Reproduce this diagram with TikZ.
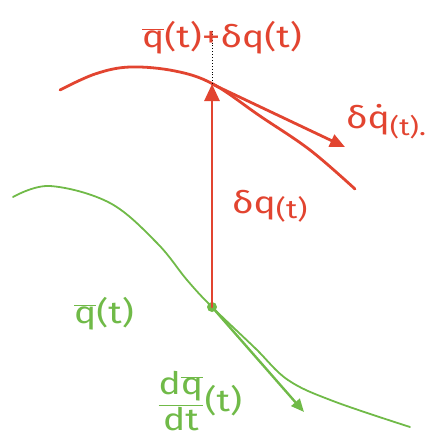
\documentclass[tikz,border=0pt]{standalone}
\usepackage{fontspec}
\setmainfont{Fira Sans}
\usetikzlibrary{arrows.meta}
\definecolor{cred}{RGB}{226,68,48}
\definecolor{cgreen}{RGB}{112,186,72}
\newcommand{\qbar}{$\overline{\mbox{q}}$}
\newcommand{\wid}[1]{\scalebox{1.2}[1]{#1}}
\begin{document}
\begin{tikzpicture}[x=1pt,y=-1pt,
  redline/.style={draw=cred,line width=2.8pt,line cap=round,line join=round},
  greenline/.style={draw=cgreen,line width=1.8pt,line cap=round,line join=round},
  redlbl/.style={text=cred,inner sep=0pt,font=\fontsize{31}{36}\selectfont},
  greenlbl/.style={text=cgreen,inner sep=0pt,font=\fontsize{31}{36}\selectfont}]
\useasboundingbox (0,0) rectangle (435,437);
% green path
\draw[greenline] plot[smooth,tension=0.6] coordinates {(13,197) (50,186) (110,203) (157,243) (187,280) (212,307) (255,348) (288,380) (333,401) (410,427)};
% red path
\draw[redline] plot[smooth,tension=0.6] coordinates {(60,90) (95,74) (130,67) (175,71) (213,84) (260,116) (310,150) (355,189)};
% points
\node[circle,fill=cgreen,minimum size=10pt,inner sep=0pt] (P) at (212,307) {};
\coordinate (T) at (212,84);
\coordinate (G) at (304,412);
\coordinate (R) at (345,147);
\coordinate (D) at (212,30);
% arrows
\draw[greenline,line width=2.4pt,-{Triangle[length=13pt,width=11pt]}] (P.center) -- (G);
\draw[redline,-{Triangle[length=17pt,width=15pt]}] (P.center) -- (T);
\draw[redline,-{Triangle[length=15pt,width=13pt]}] (T) -- (R);
\draw[black,dotted,line width=0.9pt] (T) -- (D);
% labels
\node[redlbl] (top) at (222,38) {\wid{\qbar(t)+δq(t)}};
\node[redlbl,anchor=west] (dq) at (346,122) {\wid{δq̇\raisebox{-7pt}{\fontsize{24}{28}\selectfont(t).}}};
\node[redlbl,anchor=west] (dqt) at (232,206) {\wid{δq\raisebox{-5pt}{\fontsize{26}{30}\selectfont(t)}}};
\node[greenlbl] (qb) at (104,314) {\wid{\qbar(t)}};
\node[greenlbl,anchor=west] (der) at (157,401) {\wid{$\displaystyle\frac{\mbox{d\qbar}}{\mbox{dt}}$(t)}};
\end{tikzpicture}
\end{document}
